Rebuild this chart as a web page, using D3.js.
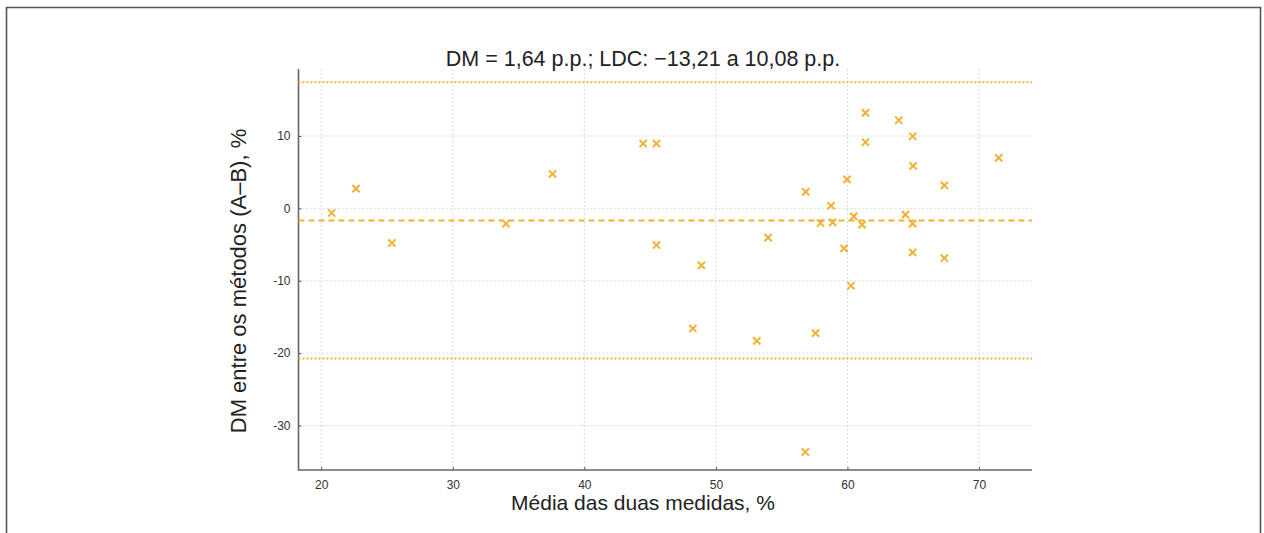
<!DOCTYPE html>
<html>
<head>
<meta charset="utf-8">
<script src="https://cdn.jsdelivr.net/npm/d3@7"></script>
<style>
  html, body { margin: 0; padding: 0; background: #fff; }
  svg { display: block; }
</style>
</head>
<body>
<svg id="chart" width="1264" height="533"></svg>
<script>
// ---- data ----
const meanValues = [20.79, 22.64, 25.37, 34.04, 37.58, 44.47, 45.48, 45.48, 48.9, 53.97, 56.83, 58.75, 59.97, 57.95, 58.88, 60.48, 61.11, 59.74, 60.27, 61.37, 61.37, 63.9, 64.96, 64.99, 67.37, 71.5, 64.41, 64.96, 64.96, 67.37, 48.25, 53.11, 57.57, 56.8];
const diffValues = [-0.64, 2.72, -4.79, -2.12, 4.75, 8.95, 8.95, -5.07, -7.88, -4.05, 2.27, 0.37, 4.01, -2.02, -1.94, -1.1, -2.25, -5.53, -10.69, 13.19, 9.13, 12.17, 9.96, 5.86, 3.18, 6.97, -0.87, -2.12, -6.09, -6.86, -16.6, -18.3, -17.23, -33.65];
const meanDiff = -1.66;
const upperLimit = 17.43;
const lowerLimit = -20.75;
const xTicks = [20, 30, 40, 50, 60, 70];
const yTicks = [10, 0, -10, -20, -30];
const titleText = "DM = 1,64 p.p.; LDC: \u221213,21 a 10,08 p.p.";
const xLabel = "Média das duas medidas, %";
const yLabel = "DM entre os métodos (A\u2013B), %";

// ---- layout ----
const svg = d3.select("#chart");
const pLeft = 298.5, pRight = 1032, pTop = 69, pBottom = 470;
const x = d3.scaleLinear().domain([18.27, 74.03]).range([pLeft, pRight]);
const y = d3.scaleLinear().domain([-36.14, 19.25]).range([pBottom, pTop]);
const orange = "#f2b134";
const narrow = "'Liberation Sans Narrow', 'Arial Narrow', 'Liberation Sans', Arial, sans-serif";

// outer frame
svg.append("path")
  .attr("d", "M6.5,540 V7.5 H1260.5 V540")
  .attr("fill", "none").attr("stroke", "#555").attr("stroke-width", 1.6);

// grid
const g = svg.append("g");
g.selectAll("line.vg").data(xTicks).join("line")
  .attr("x1", d => x(d)).attr("x2", d => x(d))
  .attr("y1", pTop).attr("y2", pBottom)
  .attr("stroke", "#d9d9d9").attr("stroke-width", 1).attr("stroke-dasharray", "2,2");
g.selectAll("line.hg").data(yTicks).join("line")
  .attr("x1", pLeft).attr("x2", pRight)
  .attr("y1", d => y(d)).attr("y2", d => y(d))
  .attr("stroke", "#d9d9d9").attr("stroke-width", 1).attr("stroke-dasharray", "2,2");

// axes
const xAxis = d3.axisBottom(x).tickValues(xTicks).tickSize(-3).tickPadding(10).tickFormat(d3.format("d"));
const yAxis = d3.axisLeft(y).tickValues(yTicks).tickSize(-3).tickPadding(8).tickFormat(d => d < 0 ? "-" + Math.abs(d) : String(d));

const gx = svg.append("g").attr("transform", `translate(0,${pBottom})`).call(xAxis);
const gy = svg.append("g").attr("transform", `translate(${pLeft},0)`).call(yAxis);
[gx, gy].forEach(a => {
  a.select(".domain").remove();
  a.selectAll(".tick line").attr("stroke", "#555").attr("stroke-width", 1);
  a.selectAll(".tick text").attr("fill", "#333")
    .style("font-family", "'Liberation Sans', Arial, sans-serif").style("font-size", "12px");
});
svg.append("line").attr("x1", pLeft).attr("x2", pLeft).attr("y1", pTop).attr("y2", pBottom + 0.5)
  .attr("stroke", "#666").attr("stroke-width", 1.6);
svg.append("line").attr("x1", pLeft - 0.5).attr("x2", pRight).attr("y1", pBottom).attr("y2", pBottom)
  .attr("stroke", "#666").attr("stroke-width", 1.6);

// reference lines
svg.append("line").attr("x1", pLeft).attr("x2", pRight)
  .attr("y1", y(meanDiff)).attr("y2", y(meanDiff))
  .attr("stroke", orange).attr("stroke-width", 2).attr("stroke-dasharray", "6,4");
[upperLimit, lowerLimit].forEach(v => {
  svg.append("line").attr("x1", pLeft).attr("x2", pRight)
    .attr("y1", y(v)).attr("y2", y(v))
    .attr("stroke", orange).attr("stroke-width", 2).attr("stroke-dasharray", "2,2");
});

// points
const pts = meanValues.map((m, i) => ({ m, d: diffValues[i] }));
const s = 3.6;
svg.append("g").selectAll("path").data(pts).join("path")
  .attr("d", p => {
    const cx = x(p.m), cy = y(p.d);
    return `M${cx - s},${cy - s}L${cx + s},${cy + s}M${cx - s},${cy + s}L${cx + s},${cy - s}`;
  })
  .attr("stroke", orange).attr("stroke-width", 2).attr("fill", "none");

// titles
svg.append("text").attr("x", 643).attr("y", 66).attr("text-anchor", "middle")
  .style("font-family", narrow).style("font-size", "21.5px").attr("fill", "#222").text(titleText);
svg.append("text").attr("x", 643).attr("y", 510).attr("text-anchor", "middle")
  .style("font-family", narrow).style("font-size", "21px").attr("fill", "#222").text(xLabel);
svg.append("text").attr("transform", "translate(246,281) rotate(-90)").attr("text-anchor", "middle")
  .style("font-family", narrow).style("font-size", "22px").attr("fill", "#222").text(yLabel);
</script>
</body>
</html>
